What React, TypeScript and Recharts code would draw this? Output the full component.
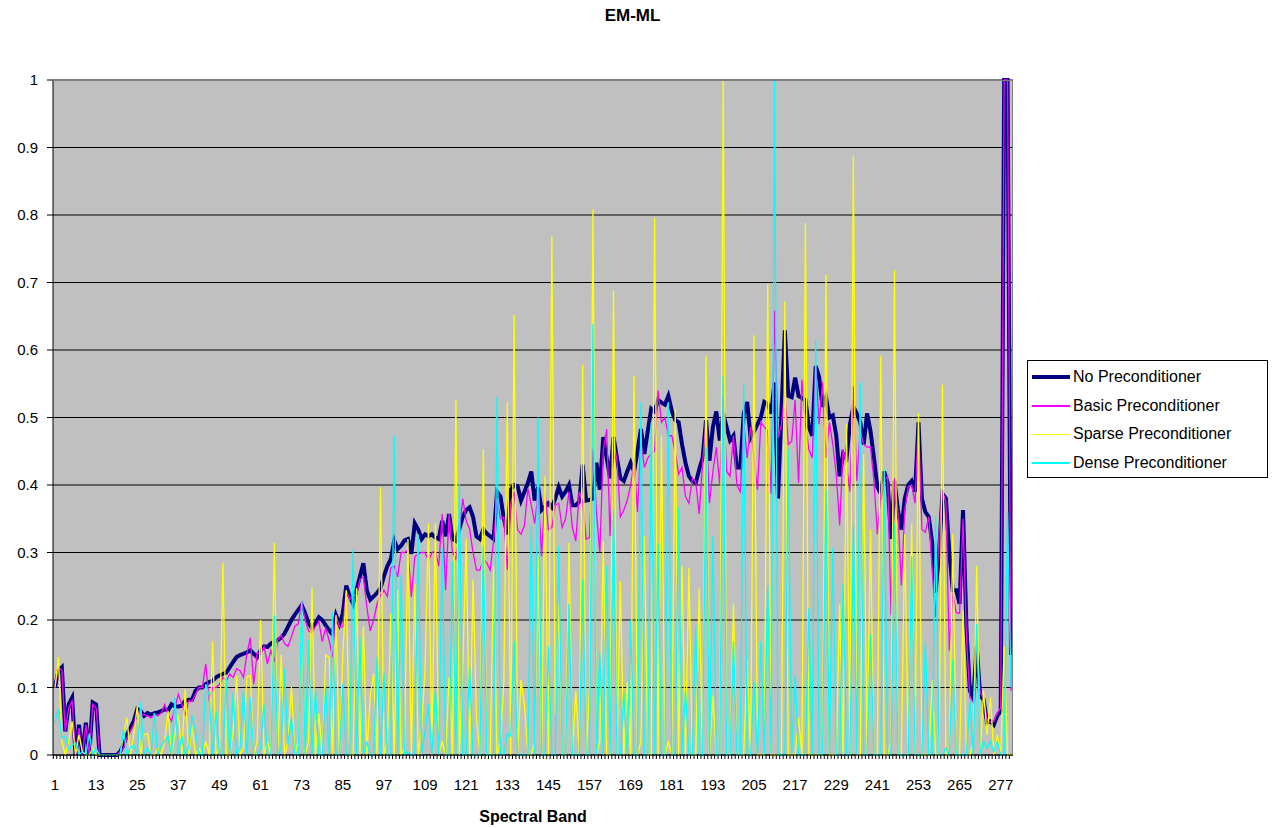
import React from "react";
import { LineChart, Line, XAxis, YAxis, CartesianGrid } from "recharts";

// EM-ML reconstruction error per spectral band, one array per preconditioner
const noPrecond = [
  0.1, 0.125, 0.13, 0.035, 0.075, 0.085, 0, 0.045, 0, 0.048,
  0, 0.078, 0.075, 0, 0, 0, 0, 0, 0, 0.005,
  0.015, 0.03, 0.04, 0.05, 0.068, 0.065, 0.058, 0.062, 0.06, 0.062,
  0.063, 0.065, 0.068, 0.066, 0.075, 0.072, 0.072, 0.073, 0.08, 0.082,
  0.082, 0.095, 0.1, 0.1, 0.105, 0.108, 0.11, 0.115, 0.118, 0.12,
  0.122, 0.13, 0.138, 0.145, 0.148, 0.15, 0.152, 0.155, 0.15, 0.145,
  0.155, 0.161, 0.16, 0.165, 0.168, 0.17, 0.174, 0.18, 0.19, 0.2,
  0.208, 0.215, 0.222, 0.21, 0.195, 0.188, 0.195, 0.204, 0.2, 0.192,
  0.185, 0.178, 0.207, 0.194, 0.21, 0.251, 0.235, 0.224, 0.245, 0.265,
  0.284, 0.244, 0.23, 0.235, 0.24, 0.247, 0.265, 0.28, 0.29, 0.318,
  0.305, 0.31, 0.318, 0.32, 0.298, 0.343, 0.334, 0.32, 0.327, 0.324,
  0.327, 0.322, 0.32, 0.347, 0.324, 0.357, 0.32, 0.317, 0.335, 0.353,
  0.363, 0.367, 0.353, 0.324, 0.32, 0.334, 0.328, 0.324, 0.32, 0.39,
  0.383, 0.35, 0.327, 0.393, 0.4, 0.398, 0.377, 0.39, 0.403, 0.42,
  0.377, 0.397, 0.363, 0.368, 0.373, 0.367, 0.38, 0.397, 0.383, 0.39,
  0.4, 0.37, 0.37, 0.375, 0.43, 0.377, 0.378, 0.38, 0.433, 0.393,
  0.471, 0.44, 0.41, 0.471, 0.44, 0.41, 0.406, 0.42, 0.433, 0.42,
  0.45, 0.483, 0.446, 0.48, 0.513, 0.509, 0.526, 0.522, 0.519, 0.532,
  0.51, 0.496, 0.493, 0.46, 0.433, 0.413, 0.406, 0.403, 0.423, 0.44,
  0.496, 0.436, 0.486, 0.509, 0.466, 0.506, 0.486, 0.466, 0.473, 0.426,
  0.426, 0.506, 0.523, 0.47, 0.479, 0.49, 0.5, 0.523, 0.52, 0.506,
  0.552, 0.38, 0.506, 0.629, 0.532, 0.53, 0.559, 0.532, 0.529, 0.526,
  0.486, 0.473, 0.576, 0.56, 0.516, 0.53, 0.5, 0.503, 0.473, 0.413,
  0.446, 0.44, 0.49, 0.516, 0.506, 0.493, 0.46, 0.506, 0.48, 0.44,
  0.397, 0.387, 0.42, 0.403, 0.32, 0.406, 0.363, 0.334, 0.38, 0.4,
  0.406, 0.39, 0.493, 0.38, 0.36, 0.353, 0.314, 0.241, 0.3, 0.387,
  0.38, 0.3, 0.244, 0.244, 0.224, 0.363, 0.188, 0.095, 0.085, 0.161,
  0.088, 0.082, 0.048, 0.05, 0.045, 0.058, 0.065, 1.0, 1.0, 0.148,
];

const basicPrecond = [
  0.1, 0.13, 0.125, 0.035, 0.07, 0.08, 0, 0.04, 0, 0.045,
  0, 0.075, 0.07, 0, 0, 0, 0, 0, 0, 0.005,
  0.01, 0.025, 0.035, 0.045, 0.065, 0.06, 0.06, 0.058, 0.055, 0.06,
  0.058, 0.062, 0.075, 0.06, 0.05, 0.07, 0.09, 0.075, 0.06, 0.08,
  0.08, 0.09, 0.1, 0.1, 0.135, 0.08, 0.1, 0.1, 0.105, 0.115,
  0.11, 0.12, 0.115, 0.128, 0.125, 0.115, 0.15, 0.174, 0.105, 0.151,
  0.15, 0.161, 0.135, 0.155, 0.138, 0.17, 0.178, 0.165, 0.161, 0.175,
  0.191, 0.194, 0.227, 0.2, 0.184, 0.181, 0.19, 0.198, 0.168, 0.188,
  0.17, 0.145, 0.207, 0.19, 0.19, 0.244, 0.23, 0.237, 0.237, 0.26,
  0.264, 0.22, 0.184, 0.2, 0.224, 0.237, 0.244, 0.235, 0.277, 0.28,
  0.264, 0.3, 0.3, 0.304, 0.234, 0.294, 0.298, 0.3, 0.3, 0.287,
  0.3, 0.302, 0.28, 0.357, 0.244, 0.357, 0.3, 0.29, 0.33, 0.38,
  0.347, 0.335, 0.3, 0.274, 0.274, 0.29, 0.285, 0.274, 0.317, 0.38,
  0.35, 0.352, 0.274, 0.373, 0.39, 0.334, 0.327, 0.34, 0.395, 0.37,
  0.343, 0.39, 0.294, 0.39, 0.334, 0.337, 0.37, 0.373, 0.337, 0.35,
  0.39, 0.337, 0.317, 0.39, 0.375, 0.32, 0.322, 0.453, 0.36, 0.3,
  0.45, 0.483, 0.324, 0.47, 0.436, 0.353, 0.363, 0.377, 0.4, 0.433,
  0.36, 0.466, 0.426, 0.44, 0.446, 0.45, 0.54, 0.493, 0.5, 0.473,
  0.473, 0.45, 0.416, 0.426, 0.383, 0.373, 0.41, 0.405, 0.357, 0.433,
  0.496, 0.373, 0.42, 0.456, 0.4, 0.532, 0.42, 0.413, 0.473, 0.4,
  0.39, 0.493, 0.44, 0.486, 0.44, 0.393, 0.493, 0.486, 0.48, 0.387,
  0.658, 0.47, 0.489, 0.539, 0.46, 0.465, 0.526, 0.403, 0.556, 0.49,
  0.453, 0.44, 0.576, 0.49, 0.552, 0.44, 0.493, 0.46, 0.416, 0.34,
  0.453, 0.43, 0.39, 0.546, 0.406, 0.48, 0.46, 0.456, 0.456, 0.406,
  0.327, 0.387, 0.406, 0.413, 0.207, 0.41, 0.36, 0.251, 0.363, 0.397,
  0.4, 0.373, 0.496, 0.334, 0.33, 0.353, 0.274, 0.204, 0.33, 0.39,
  0.375, 0.155, 0.241, 0.211, 0.21, 0.35, 0.174, 0.085, 0.078, 0.171,
  0.092, 0.085, 0.052, 0.048, 0.05, 0.062, 0.07, 1.0, 1.0, 0.095,
];

const sparsePrecond = [
  0.1, 0.145, 0.02, 0, 0.02, 0.05, 0, 0.03, 0.005, 0,
  0, 0.01, 0, 0, 0, 0, 0, 0, 0, 0,
  0.03, 0.055, 0, 0.03, 0.072, 0, 0.03, 0.032, 0, 0,
  0.01, 0, 0.02, 0.065, 0, 0.03, 0.06, 0, 0.098, 0,
  0.042, 0, 0.01, 0, 0.02, 0, 0.168, 0, 0.01, 0.284,
  0, 0, 0.035, 0.118, 0, 0.01, 0.115, 0.118, 0, 0.02,
  0.2, 0, 0.02, 0, 0.314, 0, 0.148, 0, 0.02, 0.101,
  0, 0.02, 0.214, 0, 0.02, 0.247, 0, 0.062, 0, 0.148,
  0.145, 0, 0.207, 0, 0.148, 0.244, 0, 0, 0.247, 0,
  0.191, 0, 0.088, 0.121, 0, 0.397, 0, 0.02, 0.21, 0,
  0.244, 0, 0.01, 0.32, 0, 0.254, 0, 0.04, 0.128, 0.343,
  0, 0.343, 0, 0.02, 0, 0.115, 0, 0.526, 0, 0.128,
  0.32, 0, 0.26, 0.055, 0, 0.453, 0, 0, 0.28, 0,
  0.02, 0.108, 0.523, 0, 0.652, 0, 0.111, 0.075, 0, 0,
  0.02, 0.294, 0, 0.413, 0, 0.768, 0.06, 0.224, 0, 0,
  0.314, 0, 0.095, 0, 0.578, 0, 0.1, 0.808, 0, 0.02,
  0.317, 0, 0, 0.688, 0, 0.257, 0, 0.108, 0, 0.562,
  0, 0.02, 0.324, 0, 0, 0.796, 0, 0.473, 0, 0.02,
  0, 0.513, 0, 0.28, 0, 0.277, 0, 0, 0.247, 0,
  0.592, 0, 0.088, 0, 0, 1.0, 0, 0, 0.224, 0,
  0, 0, 0.141, 0, 0.622, 0, 0, 0, 0.698, 0,
  0, 0, 0, 0.672, 0, 0, 0, 0.055, 0, 0.788,
  0, 0, 0, 0, 0, 0.712, 0, 0, 0, 0.224,
  0, 0.49, 0, 0.887, 0, 0, 0.446, 0, 0.334, 0,
  0, 0.592, 0, 0, 0.02, 0.718, 0, 0, 0.327, 0,
  0.343, 0, 0.506, 0, 0, 0, 0.111, 0, 0, 0.549,
  0, 0, 0.327, 0, 0, 0.214, 0, 0, 0.02, 0.28,
  0, 0.095, 0.03, 0.085, 0, 0.03, 0, 0.161, 0, 0,
];

const densePrecond = [
  0.048, 0.068, 0.025, 0.028, 0.008, 0.015, 0.018, 0, 0.005, 0,
  0.032, 0, 0.01, 0, 0, 0, 0, 0, 0, 0,
  0.038, 0, 0.01, 0.015, 0, 0.078, 0, 0.01, 0, 0.062,
  0, 0.015, 0.02, 0.028, 0, 0.085, 0, 0.028, 0, 0.01,
  0.058, 0.035, 0, 0, 0.105, 0.088, 0, 0.065, 0, 0,
  0.115, 0, 0.092, 0, 0.01, 0.095, 0, 0.085, 0, 0,
  0.01, 0.075, 0, 0, 0.207, 0, 0.01, 0.128, 0.015, 0.055,
  0, 0, 0.227, 0, 0.171, 0, 0.098, 0, 0, 0.101,
  0, 0.211, 0, 0, 0.105, 0, 0, 0.304, 0, 0.174,
  0, 0.02, 0, 0, 0.145, 0, 0.121, 0, 0, 0.473,
  0, 0.267, 0, 0.005, 0, 0, 0.327, 0, 0.035, 0.075,
  0, 0.095, 0, 0.307, 0, 0, 0.287, 0, 0.403, 0,
  0, 0.131, 0, 0, 0, 0.31, 0, 0, 0, 0.53,
  0, 0, 0.032, 0.028, 0.168, 0, 0, 0, 0, 0.34,
  0, 0.5, 0, 0, 0.161, 0, 0, 0.31, 0, 0,
  0.224, 0, 0, 0, 0.26, 0, 0, 0.638, 0, 0.151,
  0, 0.28, 0, 0.363, 0, 0, 0.092, 0, 0.2, 0,
  0, 0.523, 0, 0, 0.493, 0, 0.314, 0, 0, 0.523,
  0, 0, 0.367, 0, 0.095, 0, 0, 0.191, 0, 0,
  0.456, 0, 0.324, 0, 0, 0.562, 0, 0, 0.168, 0,
  0, 0.549, 0, 0, 0.108, 0, 0.168, 0, 0.251, 0,
  1.0, 0, 0, 0, 0.453, 0, 0.118, 0, 0, 0,
  0.217, 0, 0.615, 0, 0, 0.393, 0, 0.307, 0, 0,
  0.254, 0, 0, 0.34, 0, 0.552, 0, 0, 0.178, 0,
  0, 0, 0.423, 0, 0, 0.343, 0, 0, 0, 0,
  0.294, 0, 0, 0, 0.168, 0, 0, 0.353, 0, 0,
  0.01, 0, 0.141, 0, 0, 0, 0, 0.082, 0, 0.194,
  0, 0.02, 0.01, 0.02, 0.005, 0.02, 0, 0, 0.36, 0.1,
];

const bands = noPrecond.map((_, i) => i + 1);
const yTicks = [0, 0.1, 0.2, 0.3, 0.4, 0.5, 0.6, 0.7, 0.8, 0.9, 1];

const series = [
  { key: "none", name: "No Preconditioner", color: "#000080", width: 4 },
  { key: "basic", name: "Basic Preconditioner", color: "#FF00FF", width: 1.3 },
  { key: "sparse", name: "Sparse Preconditioner", color: "#FFFF00", width: 1.3 },
  { key: "dense", name: "Dense Preconditioner", color: "#00FFFF", width: 1.3 },
];

const data = bands.map((band, i) => ({
  band,
  none: noPrecond[i],
  basic: basicPrecond[i],
  sparse: sparsePrecond[i],
  dense: densePrecond[i],
}));

const FONT = '"Liberation Sans", Arial, sans-serif';

// every band gets a small tick, only every 12th gets a label
function BandTick(props: any) {
  const { x, y, payload } = props;
  const labelled = (payload.value - 1) % 12 === 0;
  return (
    <g>
      <line x1={x - 1.7} y1={y} x2={x - 1.7} y2={y + 4} stroke="#000" strokeWidth={1} />
      {labelled && (
        <text x={x} y={y + 35} textAnchor="middle" fontSize={15} fontFamily={FONT} fill="#000">
          {payload.value}
        </text>
      )}
    </g>
  );
}

function LegendBox() {
  return (
    <div
      style={{
        position: "absolute",
        left: 1027,
        top: 360,
        width: 241,
        height: 118,
        boxSizing: "border-box",
        border: "1px solid #000",
        background: "#fff",
        paddingTop: 2,
        paddingLeft: 4,
        fontFamily: FONT,
      }}
    >
      {series.map((s) => (
        <div key={s.key} style={{ display: "flex", alignItems: "center", height: 28.6 }}>
          <span style={{ display: "inline-block", width: 38, height: s.width, background: s.color, marginRight: 3 }} />
          <span style={{ fontSize: 16, color: "#000" }}>{s.name}</span>
        </div>
      ))}
    </div>
  );
}

export default function App() {
  return (
    <div style={{ position: "relative", width: 1275, height: 828, background: "#fff", fontFamily: FONT }}>
      <style>{"body{margin:0}"}</style>
      <div
        style={{
          position: "absolute",
          top: 6,
          left: 0,
          width: 1265,
          textAlign: "center",
          fontSize: 17,
          fontWeight: "bold",
        }}
      >
        EM-ML
      </div>
      <LineChart width={1275} height={828} data={data} margin={{ top: 80, right: 262, bottom: 0, left: 9 }}>
        <CartesianGrid vertical={false} stroke="#000" fill="#C0C0C0" fillOpacity={1} />
        <XAxis
          dataKey="band"
          type="category"
          interval={0}
          height={73}
          padding={{ left: 2, right: 2 }}
          axisLine={{ stroke: "#000" }}
          tickLine={false}
          tickSize={0}
          tickMargin={0}
          tick={<BandTick />}
        />
        <YAxis
          domain={[0, 1]}
          ticks={yTicks}
          width={44}
          axisLine={{ stroke: "#000" }}
          tickLine={{ stroke: "#000" }}
          tickSize={6}
          tickMargin={9}
          tick={{ fontSize: 15, fill: "#000", fontFamily: FONT }}
          tickFormatter={(v: number) => String(v)}
        />
        {series.map((s) => (
          <Line
            key={s.key}
            type="linear"
            dataKey={s.key}
            name={s.name}
            stroke={s.color}
            strokeWidth={s.width}
            dot={false}
            activeDot={false}
            isAnimationActive={false}
          />
        ))}
      </LineChart>
      <div
        style={{
          position: "absolute",
          left: 53,
          top: 80,
          width: 960,
          height: 675,
          boxSizing: "border-box",
          borderTop: "1px solid #808080",
          borderRight: "1px solid #808080",
          pointerEvents: "none",
        }}
      />
      <LegendBox />
      <div
        style={{
          position: "absolute",
          top: 808,
          left: 53,
          width: 960,
          textAlign: "center",
          fontSize: 16,
          fontWeight: "bold",
        }}
      >
        Spectral Band
      </div>
    </div>
  );
}
